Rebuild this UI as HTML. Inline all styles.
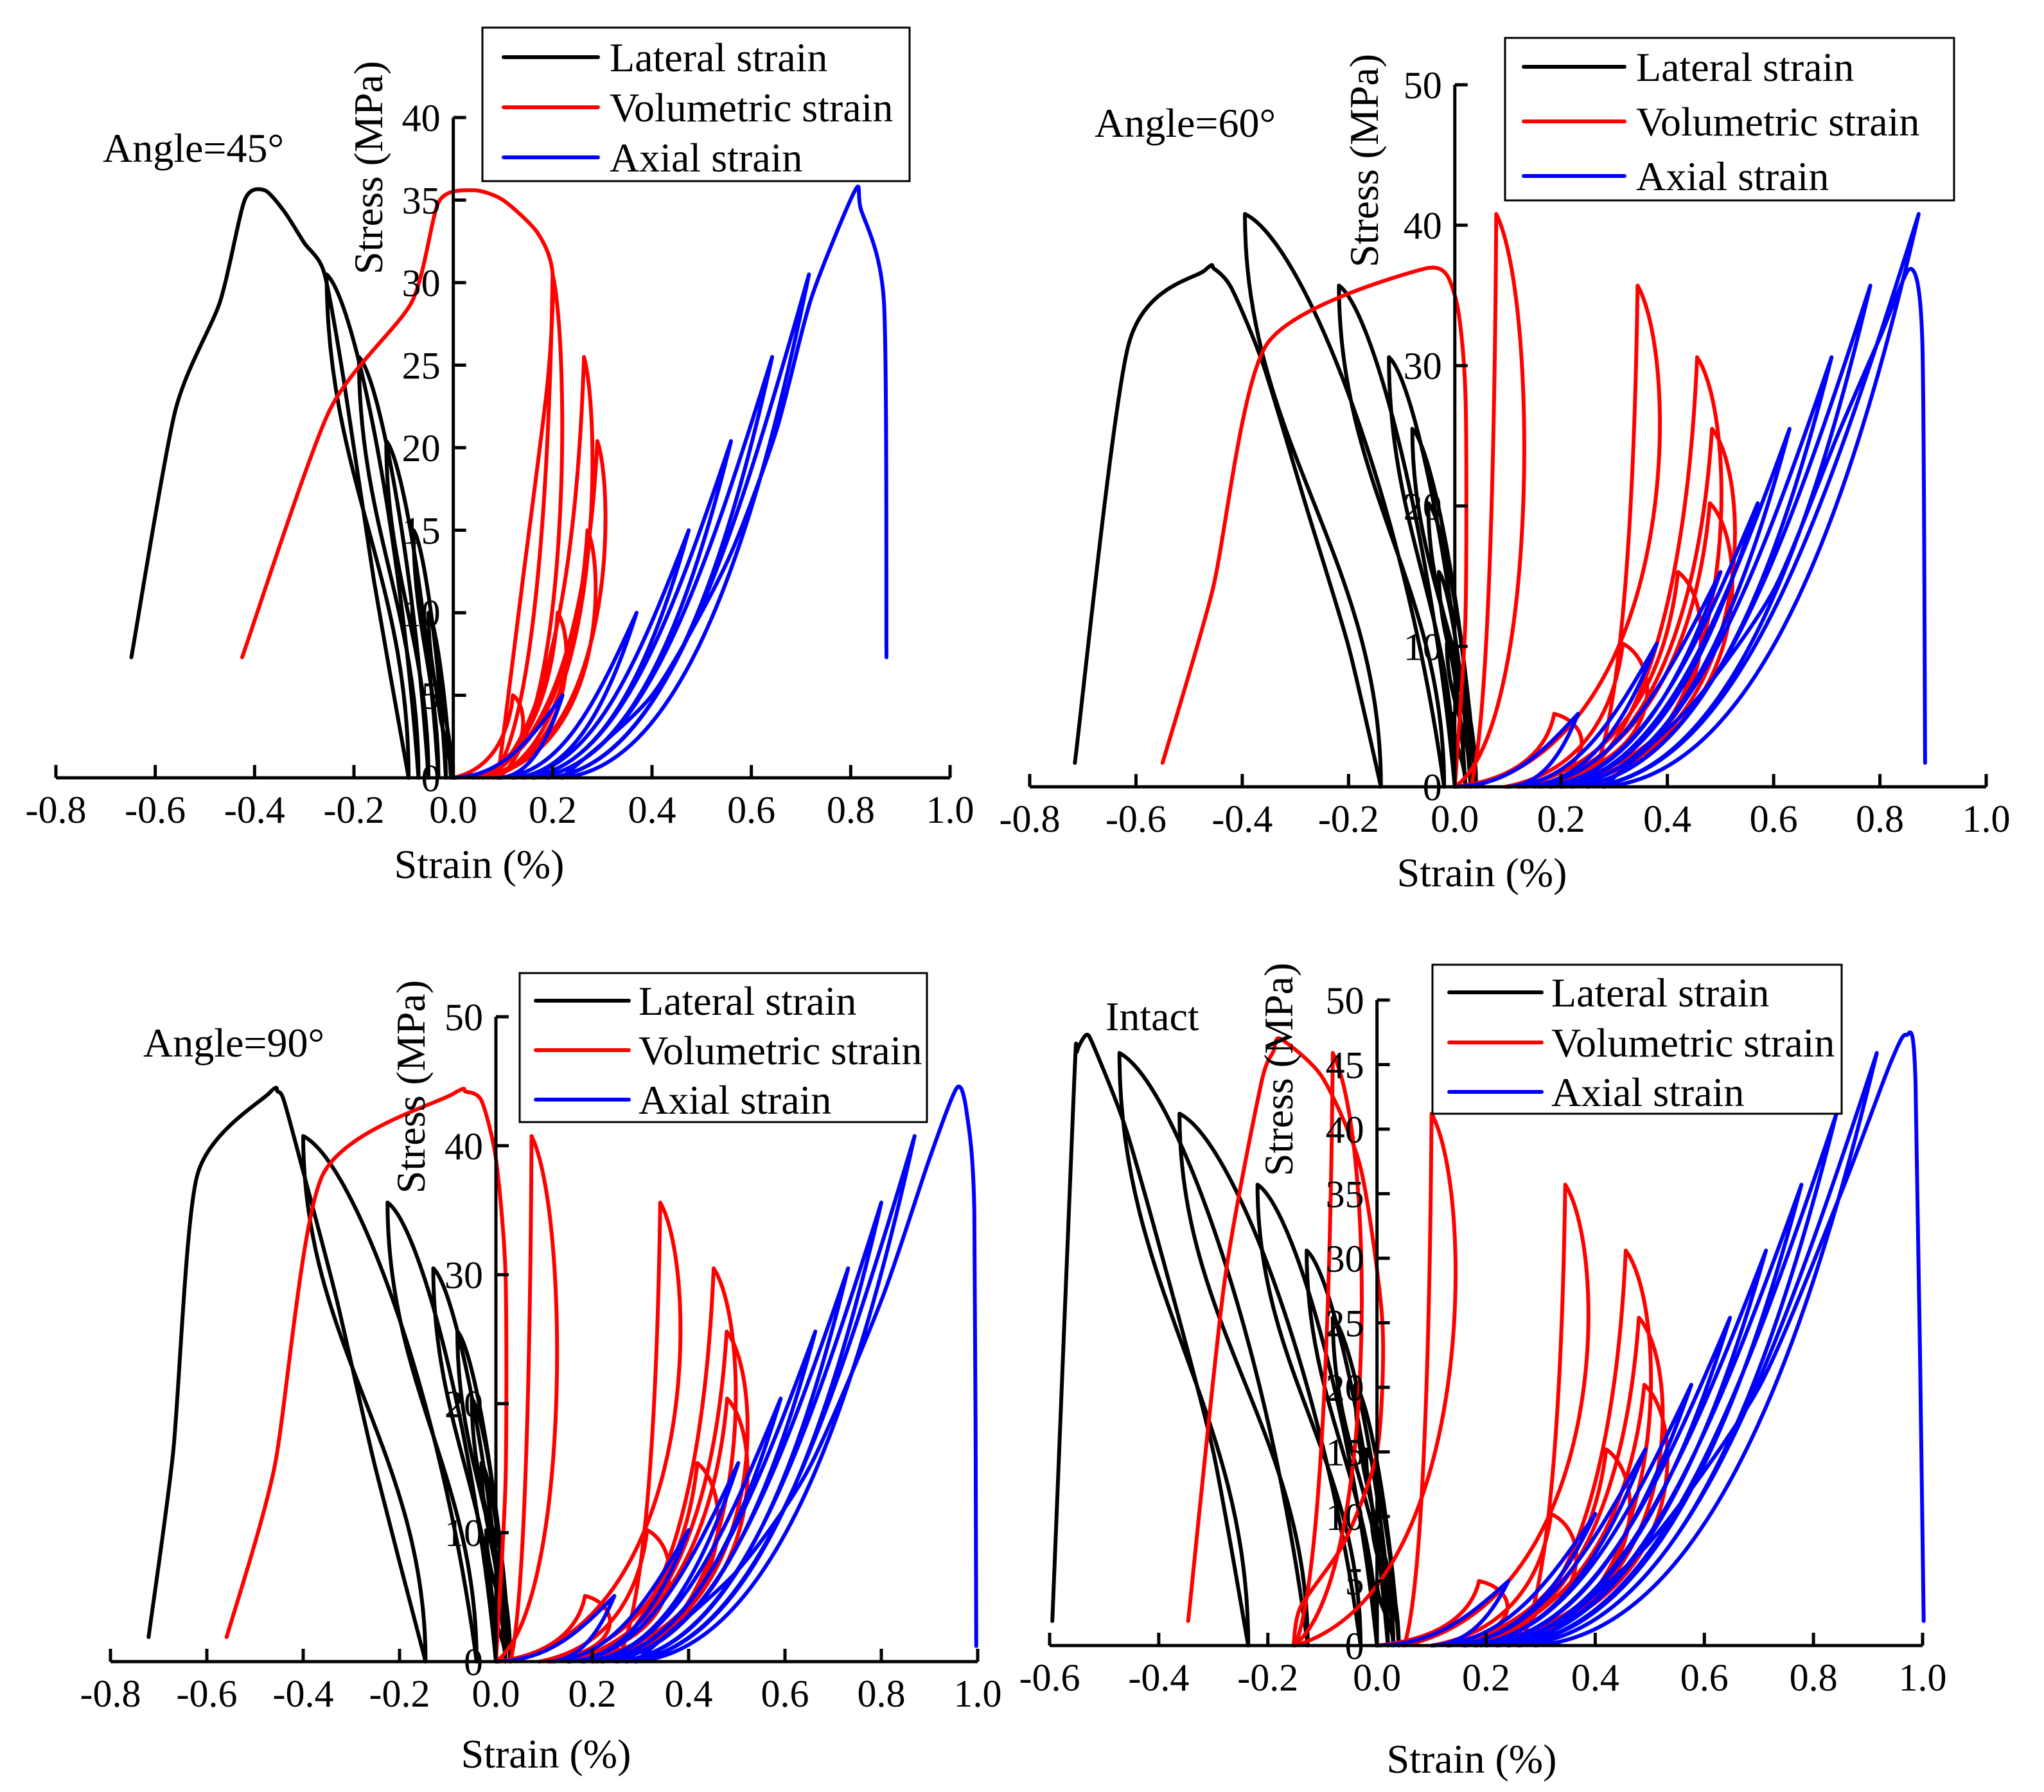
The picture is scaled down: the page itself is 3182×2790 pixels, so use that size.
<!DOCTYPE html>
<html><head><meta charset="utf-8"><title>Stress-strain curves</title>
<style>
html,body{margin:0;padding:0;background:#fff;}
svg{display:block;font-family:"Liberation Serif","Times New Roman",serif;}
</style></head>
<body>
<svg id="fig" xmlns="http://www.w3.org/2000/svg" width="3182" height="2790" viewBox="0 0 3182 2790">
<rect width="3182" height="2790" fill="#fff"/>
</svg>
<script>
// ---------- Panel 1: Angle=45 ----------
const p1Stress = [5, 10, 15, 20.4, 25.5, 30.5];
const p1LatPeak = [-0.03, -0.05, -0.08, -0.135, -0.19, -0.255];
const p1LatRes = [-0.005, -0.015, -0.03, -0.05, -0.07, -0.09];
const p1LatTail = [[-0.16,12],[-0.22,24],[-0.26,30.6],[-0.30,32.4],[-0.34,34.3],[-0.38,35.6],[-0.42,35],[-0.47,28.8],[-0.56,22.2],[-0.648,7.3]];
const p1VolPeak = [0.12, 0.21, 0.27, 0.29, 0.263, 0.20];
const p1VolRes = [0.04, 0.05, 0.06, 0.07, 0.08, 0.09];
const p1VolTail = [[0.14,12],[0.19,24],[0.20,30.5],[0.17,33],[0.10,35],[0.04,35.6],[-0.029,34.9],[-0.084,28.8],[-0.25,22.2],[-0.425,7.3]];
const p1AxPeak = [0.22, 0.369, 0.474, 0.559, 0.642, 0.716];
const p1AxRes = [0.093, 0.12, 0.14, 0.16, 0.19, 0.218];
const p1AxTail = [[0.40,5],[0.55,13],[0.65,21],[0.72,29],[0.809,35.6],[0.82,34.5],[0.867,28.8],[0.872,7.3]];
const p1XTicks = ["-0.8","-0.6","-0.4","-0.2","0.0","0.2","0.4","0.6","0.8","1.0"];
const p1YTicks = ["0","5","10","15","20","25","30","35","40"];

// ---------- Panel 2: Angle=60 ----------
const p2Stress = [5.2, 10.2, 15.3, 20.2, 25.5, 30.6, 35.7, 40.8];
const p2LatPeak = [-0.005, -0.015, -0.03, -0.05, -0.08, -0.124, -0.218, -0.395];
const p2LatRes = [0.02, 0.03, 0.04, 0.04, 0.03, 0.0, -0.02, -0.139];
const p2LatTail = [[-0.20,10],[-0.28,20],[-0.36,30],[-0.42,35.5],[-0.453,36.9],[-0.47,36.8],[-0.614,31.5],[-0.715,1.7]];
const p2VolPeak = [0.187, 0.316, 0.42, 0.48, 0.484, 0.456, 0.344, 0.078];
const p2VolRes = [0.095, 0.12, 0.15, 0.18, 0.21, 0.25, 0.03, 0.0];
const p2VolTail = [[0.02,12],[0.02,28],[0.0,35],[-0.057,36.9],[-0.354,31.5],[-0.456,14],[-0.55,1.7]];
const p2AxPeak = [0.232, 0.38, 0.5, 0.57, 0.63, 0.709, 0.782, 0.873];
const p2AxRes = [0.1, 0.13, 0.16, 0.18, 0.2, 0.22, 0.25, 0.28];
const p2AxTail = [[0.45,6],[0.6,14],[0.72,25],[0.8,32],[0.858,36.9],[0.88,31.5],[0.885,1.7]];
const p2XTicks = ["-0.8","-0.6","-0.4","-0.2","0.0","0.2","0.4","0.6","0.8","1.0"];
const p2YTicks = ["0","10","20","30","40","50"];

// ---------- Panel 3: Angle=90 ----------
const p3Stress = [5.1, 10.2, 15.4, 20.4, 25.6, 30.5, 35.6, 40.75];
const p3LatPeak = [-0.01, -0.02, -0.03, -0.05, -0.08, -0.13, -0.225, -0.40];
const p3LatRes = [0.02, 0.03, 0.03, 0.03, 0.02, 0.0, -0.04, -0.146];
const p3LatTail = [[-0.25,15],[-0.33,28],[-0.40,38],[-0.44,43.5],[-0.453,44.2],[-0.47,44.1],[-0.62,37.7],[-0.67,16.2],[-0.721,1.9]];
const p3VolPeak = [0.185, 0.314, 0.418, 0.48, 0.479, 0.452, 0.341, 0.074];
const p3VolRes = [0.09, 0.12, 0.15, 0.18, 0.21, 0.25, 0.03, 0.0];
const p3VolTail = [[0.02,14],[0.02,30],[0.0,39],[-0.03,43.5],[-0.063,44.2],[-0.09,44],[-0.36,37.7],[-0.46,15],[-0.559,1.9]];
const p3AxPeak = [0.246, 0.40, 0.503, 0.591, 0.663, 0.731, 0.8, 0.869];
const p3AxRes = [0.11, 0.15, 0.18, 0.2, 0.22, 0.25, 0.27, 0.29];
const p3AxTail = [[0.5,7],[0.65,15],[0.8,28],[0.9,39],[0.957,44.5],[0.977,42.6],[0.993,34.8],[0.997,1.2]];
const p3XTicks = ["-0.8","-0.6","-0.4","-0.2","0.0","0.2","0.4","0.6","0.8","1.0"];
const p3YTicks = ["0","10","20","30","40","50"];

// ---------- Panel 4: Intact ----------
const p4Stress = [5, 10.2, 15.2, 20.2, 25.4, 30.6, 35.7, 41.2, 45.9];
const p4LatPeak = [0.0, -0.01, -0.02, -0.04, -0.081, -0.129, -0.219, -0.362, -0.472];
const p4LatRes = [0.03, 0.04, 0.04, 0.03, 0.02, 0.0, -0.03, -0.127, -0.236];
const p4LatTail = [[-0.3,15],[-0.38,28],[-0.46,40],[-0.52,46.5],[-0.533,47.3],[-0.55,46],[-0.555,43.6],[-0.595,1.9]];
const p4VolPeak = [0.187, 0.319, 0.42, 0.49, 0.48, 0.456, 0.345, 0.10, -0.081];
const p4VolRes = [0.1, 0.13, 0.16, 0.19, 0.22, 0.26, 0.05, -0.15, -0.153];
const p4VolTail = [[-0.14,3],[-0.06,8],[0.0,15],[0.01,25],[-0.03,37],[-0.10,44],[-0.177,47],[-0.19,46],[-0.213,43.4],[-0.28,28],[-0.346,1.9]];
const p4AxPeak = [0.241, 0.40, 0.492, 0.576, 0.647, 0.713, 0.778, 0.842, 0.916];
const p4AxRes = [0.1, 0.13, 0.16, 0.18, 0.2, 0.22, 0.24, 0.26, 0.29];
const p4AxTail = [[0.5,8],[0.7,20],[0.85,35],[0.94,45],[0.97,47.3],[0.987,43.6],[1.002,1.9]];
const p4XTicks = ["-0.6","-0.4","-0.2","0.0","0.2","0.4","0.6","0.8","1.0"];
const p4YTicks = ["0","5","10","15","20","25","30","35","40","45","50"];

const NS = "http://www.w3.org/2000/svg";
const svg = document.getElementById("fig");
function el(tag, attrs, parent) {
  const e = document.createElementNS(NS, tag);
  for (const k in attrs) e.setAttribute(k, attrs[k]);
  (parent || svg).appendChild(e);
  return e;
}

const panels = [
  {id:"p1", title:"Angle=45°", tx:160, ty:252, xmin:-0.8, xmax:1.0, px0:87, px1:1479, y0:1211, yTop:183, ymax:40, bow:0.035,
   xt:p1XTicks, yt:p1YTicks, st:p1Stress, lat:[p1LatPeak,p1LatRes,p1LatTail], vol:[p1VolPeak,p1VolRes,p1VolTail], ax:[p1AxPeak,p1AxRes,p1AxTail],
   ytx:573, yty:261, xtx:746, xty:1367, leg:[751,43,665,239], legLine:[784,931], legRows:[89,167,245], legText:949},
  {id:"p2", title:"Angle=60°", tx:1704, ty:213, xmin:-0.8, xmax:1.0, px0:1603, px1:3092, y0:1225, yTop:132, ymax:50, bow:0.08,
   xt:p2XTicks, yt:p2YTicks, st:p2Stress, lat:[p2LatPeak,p2LatRes,p2LatTail], vol:[p2VolPeak,p2VolRes,p2VolTail], ax:[p2AxPeak,p2AxRes,p2AxTail],
   ytx:2123, yty:250, xtx:2307, xty:1380, leg:[2343,59,699,253], legLine:[2372,2529], legRows:[104,189,274], legText:2547},
  {id:"p3", title:"Angle=90°", tx:223, ty:1645, xmin:-0.8, xmax:1.0, px0:172, px1:1522, y0:2587, yTop:1583, ymax:50, bow:0.08,
   xt:p3XTicks, yt:p3YTicks, st:p3Stress, lat:[p3LatPeak,p3LatRes,p3LatTail], vol:[p3VolPeak,p3VolRes,p3VolTail], ax:[p3AxPeak,p3AxRes,p3AxTail],
   ytx:639, yty:1692, xtx:850, xty:2752, leg:[809,1515,634,232], legLine:[834,979], legRows:[1558,1635,1712], legText:994},
  {id:"p4", title:"Intact", tx:1721, ty:1604, xmin:-0.6, xmax:1.0, px0:1634, px1:2993, y0:2562, yTop:1557, ymax:50, bow:0.08,
   xt:p4XTicks, yt:p4YTicks, st:p4Stress, lat:[p4LatPeak,p4LatRes,p4LatTail], vol:[p4VolPeak,p4VolRes,p4VolTail], ax:[p4AxPeak,p4AxRes,p4AxTail],
   ytx:1990, yty:1665, xtx:2291, xty:2760, leg:[2230,1502,637,232], legLine:[2256,2400], legRows:[1545,1623,1700], legText:2415}
];

function f(v){return v.toFixed(1);}

panels.forEach(P => {
  const g = el("g", {});
  
  
  const X = v => P.px0 + (v - P.xmin) / (P.xmax - P.xmin) * (P.px1 - P.px0);
  const Y = v => P.y0 - v / P.ymax * (P.y0 - P.yTop);
  const zx = X(0);

  function seriesPath(peaks, res, tail, stress, kind) {
    let x = 0, d = "M" + f(X(0)) + "," + f(Y(0));
    for (let i = 0; i < peaks.length; i++) {
      const xp = peaks[i], sp = stress[i], r2 = res[i];
      const dx = xp - x;
      let c1, c2, u1, u2;
      if (kind === "ax") {
        const d2 = xp - r2;
        c1 = [x + 0.45*dx, 0.02*sp]; c2 = [xp - 0.3*dx, 0.45*sp];
        u1 = [xp - 0.25*d2, 0.4*sp]; u2 = [r2 + 0.45*d2, 0.02*sp];
      } else if (kind === "lat") {
        c1 = [x + 0.2*dx, 0.5*sp]; c2 = [xp - 0.3*dx, 0.95*sp];
        u1 = [xp, 0.6*sp]; u2 = [r2, 0.4*sp];
      } else {
        const bw = P.bow;
        c1 = [x + 0.75*dx, 0.12*sp]; c2 = [xp - 0.05*dx, 0.65*sp];
        u1 = [xp + bw, 0.85*sp]; u2 = [xp + bw, 0.1*sp];
      }
      d += " C" + f(X(c1[0])) + "," + f(Y(c1[1])) + " " + f(X(c2[0])) + "," + f(Y(c2[1])) + " " + f(X(xp)) + "," + f(Y(sp));
      d += " C" + f(X(u1[0])) + "," + f(Y(u1[1])) + " " + f(X(u2[0])) + "," + f(Y(u2[1])) + " " + f(X(r2)) + "," + f(Y(0));
      x = r2;
    }
    const pts = [[x,0]].concat(tail).map(p => [X(p[0]), Y(p[1])]);
    for (let i = 0; i < pts.length - 1; i++) {
      const p0 = pts[Math.max(0,i-1)], p1 = pts[i], p2 = pts[i+1], p3 = pts[Math.min(pts.length-1,i+2)];
      const k = 0.12;
      d += " C" + f(p1[0] + (p2[0]-p0[0])*k) + "," + f(p1[1] + (p2[1]-p0[1])*k) + " " +
           f(p2[0] - (p3[0]-p1[0])*k) + "," + f(p2[1] - (p3[1]-p1[1])*k) + " " + f(p2[0]) + "," + f(p2[1]);
    }
    return d;
  }
  const colors = {lat:"#000000", vol:"#ff0000", ax:"#0000ff"};
  const names = {lat:"lateral-strain-curve", vol:"volumetric-strain-curve", ax:"axial-strain-curve"};
  ["lat","vol","ax"].forEach(k => {
    const s = P[k];
    const path = el("path", {d: seriesPath(s[0], s[1], s[2], P.st, k), fill:"none", stroke:colors[k], "stroke-width":6, "stroke-linejoin":"round", "stroke-linecap":"round"}, g);
    
    
  });

  const xa = el("line", {x1:P.px0, y1:P.y0, x2:P.px1, y2:P.y0, stroke:"#000", "stroke-width":5}, g);
  
  
  const ya = el("line", {x1:zx, y1:P.y0, x2:zx, y2:P.yTop, stroke:"#000", "stroke-width":5}, g);
  
  
  P.xt.forEach(t => {
    const v = parseFloat(t), px = X(v);
    el("line", {x1:px, y1:P.y0, x2:px, y2:P.y0-20, stroke:"#000", "stroke-width":5}, g);
    const tx = el("text", {x:px, y:P.y0+70, "font-size":60, "text-anchor":"middle", fill:"#000"}, g);
    tx.textContent = t;
    
    
  });
  P.yt.forEach(t => {
    const v = parseFloat(t), py = Y(v);
    el("line", {x1:zx, y1:py, x2:zx+20, y2:py, stroke:"#000", "stroke-width":5}, g);
    const ty = el("text", {x:zx-20, y:py+21, "font-size":60, "text-anchor":"end", fill:"#000"}, g);
    ty.textContent = t;
    
    
  });
  const yt = el("text", {x:P.ytx, y:P.yty, "font-size":64, "text-anchor":"middle", transform:"rotate(-90 " + P.ytx + " " + P.yty + ")", dy:"22", fill:"#000"}, g);
  yt.textContent = "Stress (MPa)";
  
  
  const xt = el("text", {x:P.xtx, y:P.xty, "font-size":64, "text-anchor":"middle", fill:"#000"}, g);
  xt.textContent = "Strain (%)";
  
  
  const tt = el("text", {x:P.tx, y:P.ty, "font-size":64, fill:"#000"}, g);
  tt.textContent = P.title;
  
  

  const lg = el("g", {}, g);
  
  
  el("rect", {x:P.leg[0], y:P.leg[1], width:P.leg[2], height:P.leg[3], fill:"#fff", stroke:"#000", "stroke-width":3}, lg);
  const labels = ["Lateral strain","Volumetric strain","Axial strain"];
  const lc = ["#000000","#ff0000","#0000ff"];
  labels.forEach((lab, i) => {
    const row = el("g", {}, lg);
    
    
    el("line", {x1:P.legLine[0], y1:P.legRows[i], x2:P.legLine[1], y2:P.legRows[i], stroke:lc[i], "stroke-width":6, "stroke-linecap":"round"}, row);
    const t = el("text", {x:P.legText, y:P.legRows[i]+22, "font-size":64, fill:"#000"}, row);
    t.textContent = lab;
  });
});
</script>
</body></html>
